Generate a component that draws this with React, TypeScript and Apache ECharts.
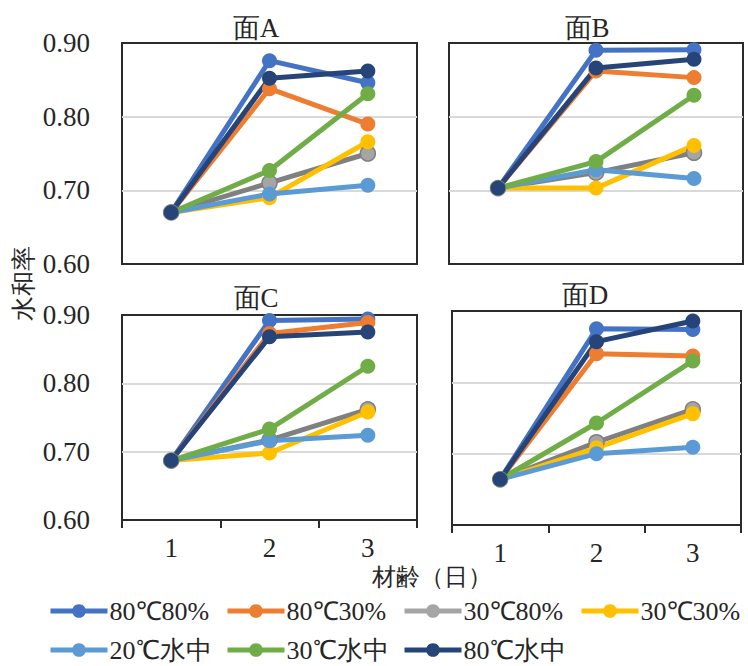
import React, { useEffect, useRef } from 'react';
import * as echarts from 'echarts';

const categories = ['1', '2', '3'];
const seriesNames = ['80℃80%', '80℃30%', '30℃80%', '30℃30%', '20℃水中', '30℃水中', '80℃水中'];
const panelTitles = ['面A', '面B', '面C', '面D'];
const yTickValues = [0.6, 0.7, 0.8, 0.9];
const yAxisTitle = '水和率';
const xAxisTitle = '材齢（日）';

// values per series for each panel (order = seriesNames)
const panelA = [
  [0.670, 0.876, 0.846],
  [0.670, 0.838, 0.790],
  [0.670, 0.710, 0.750],
  [0.670, 0.690, 0.766],
  [0.670, 0.695, 0.707],
  [0.670, 0.727, 0.831],
  [0.670, 0.852, 0.862],
];
const panelB = [
  [0.703, 0.890, 0.891],
  [0.703, 0.862, 0.853],
  [0.703, 0.724, 0.751],
  [0.703, 0.703, 0.761],
  [0.703, 0.728, 0.716],
  [0.703, 0.739, 0.829],
  [0.703, 0.866, 0.878],
];
const panelC = [
  [0.687, 0.892, 0.894],
  [0.687, 0.873, 0.889],
  [0.687, 0.717, 0.762],
  [0.687, 0.698, 0.758],
  [0.687, 0.716, 0.724],
  [0.687, 0.733, 0.825],
  [0.687, 0.868, 0.875],
];
const panelD = [
  [0.664, 0.875, 0.874],
  [0.664, 0.840, 0.837],
  [0.664, 0.716, 0.762],
  [0.664, 0.708, 0.756],
  [0.664, 0.700, 0.709],
  [0.664, 0.743, 0.830],
  [0.664, 0.857, 0.886],
];

const lineColors = ['#4472C4', '#ED7D31', '#808080', '#FFC000', '#5B9BD5', '#70AD47', '#264478'];
const markerColors = ['#4472C4', '#ED7D31', '#A5A5A5', '#FFC000', '#5B9BD5', '#70AD47', '#264478'];
const legendLineColors = ['#4472C4', '#ED7D31', '#A5A5A5', '#FFC000', '#5B9BD5', '#70AD47', '#264478'];

const FONT = 'Liberation Serif';
const TEXT_COLOR = '#262626';

export default function App() {
  const ref = useRef<HTMLDivElement>(null);

  useEffect(() => {
    if (!ref.current) return;
    const chart = echarts.init(ref.current, null, { renderer: 'svg' });
    const panels = [panelA, panelB, panelC, panelD];

    const grids = [
      { left: 122, top: 43, width: 295, height: 221 },
      { left: 449, top: 43, width: 294, height: 221 },
      { left: 122, top: 315, width: 295, height: 205 },
      { left: 452, top: 311, width: 289, height: 214 },
    ].map((g) => ({
      ...g,
      show: true,
      borderColor: '#2b2b2b',
      borderWidth: 2,
      backgroundColor: 'transparent',
      containLabel: false,
    }));

    const xAxes = grids.map((_, i) => {
      const bottom = i >= 2;
      return {
        type: 'category',
        gridIndex: i,
        data: categories,
        boundaryGap: true,
        axisLine: { show: bottom, lineStyle: { color: '#2b2b2b', width: 2 } },
        axisTick: { show: bottom, length: 8, lineStyle: { color: '#2b2b2b', width: 2 } },
        axisLabel: {
          show: bottom,
          fontSize: 27,
          fontFamily: FONT,
          color: TEXT_COLOR,
          margin: 14,
        },
        splitLine: { show: false },
      };
    });

    const yAxes = grids.map((_, i) => {
      const leftSide = i % 2 === 0;
      return {
        type: 'value',
        gridIndex: i,
        min: yTickValues[0],
        max: yTickValues[yTickValues.length - 1],
        interval: 0.1,
        axisLine: { show: false },
        axisTick: { show: false },
        axisLabel: {
          show: leftSide,
          fontSize: 27,
          fontFamily: FONT,
          color: TEXT_COLOR,
          margin: 32,
          formatter: (v: number) => v.toFixed(2),
        },
        splitLine: {
          show: true,
          showMinLine: false,
          showMaxLine: false,
          lineStyle: { color: '#d9d9d9', width: 2 },
        },
      };
    });

    const series: any[] = [];
    panels.forEach((panel, p) => {
      panel.forEach((vals, s) => {
        series.push({
          type: 'line',
          name: seriesNames[s],
          xAxisIndex: p,
          yAxisIndex: p,
          data: vals,
          symbol: 'circle',
          symbolSize: 15,
          lineStyle: { width: 5, color: lineColors[s] },
          itemStyle: {
            color: markerColors[s],
            borderColor: lineColors[s],
            borderWidth: s === 2 ? 1.5 : 0,
          },
          emphasis: { disabled: true },
        });
      });
    });

    const legendCols = [48, 225, 402, 579];
    const legendRows = [598, 637];
    const legends = seriesNames.map((name, i) => ({
      show: true,
      left: legendCols[i % 4],
      top: legendRows[Math.floor(i / 4)],
      padding: 0,
      itemWidth: 57,
      itemHeight: 17,
      itemGap: 0,
      selectedMode: false,
      textStyle: { fontSize: 26, lineHeight: 20, fontFamily: FONT, color: TEXT_COLOR, padding: [0, 0, 0, -3] },
      data: [
        {
          name,
          lineStyle: { color: legendLineColors[i], width: 5 },
          itemStyle: { color: markerColors[i], borderWidth: 0 },
        },
      ],
    }));

    const titlePos = [
      [256, 28],
      [587, 28],
      [256, 298],
      [585, 295],
    ];
    const graphics: any[] = panelTitles.map((t, i) => ({
      type: 'text',
      x: titlePos[i][0],
      y: titlePos[i][1],
      style: {
        text: t,
        fontSize: 27,
        fontFamily: FONT,
        fill: TEXT_COLOR,
        textAlign: 'center',
        textVerticalAlign: 'middle',
        align: 'center',
        verticalAlign: 'middle',
      },
    }));
    graphics.push({
      type: 'text',
      x: 23,
      y: 283,
      rotation: Math.PI / 2,
      style: {
        text: yAxisTitle,
        fontSize: 25,
        fontFamily: FONT,
        fill: TEXT_COLOR,
        textAlign: 'center',
        textVerticalAlign: 'middle',
        align: 'center',
        verticalAlign: 'middle',
      },
    });
    graphics.push({
      type: 'text',
      x: 432,
      y: 577,
      style: {
        text: xAxisTitle,
        fontSize: 24,
        fontFamily: FONT,
        fill: TEXT_COLOR,
        textAlign: 'center',
        textVerticalAlign: 'middle',
        align: 'center',
        verticalAlign: 'middle',
      },
    });

    chart.setOption({
      animation: false,
      backgroundColor: '#ffffff',
      grid: grids,
      xAxis: xAxes,
      yAxis: yAxes,
      legend: legends,
      series,
      graphic: graphics,
    });

    return () => chart.dispose();
  }, []);

  return (
    <div
      ref={ref}
      style={{ position: 'fixed', left: 0, top: 0, width: 748, height: 666 }}
    />
  );
}
